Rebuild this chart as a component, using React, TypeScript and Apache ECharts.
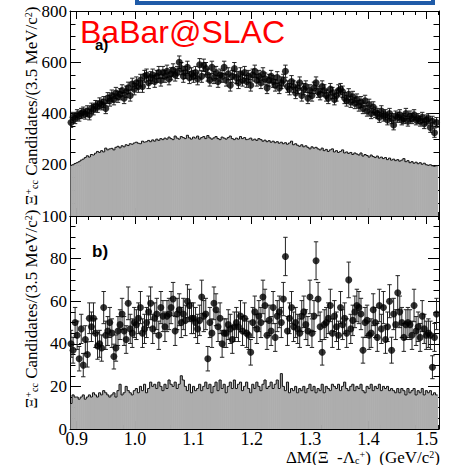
import React, { useEffect, useRef } from 'react';
import * as echarts from 'echarts';

const X_MIN = 0.8885;
const X_MAX = 1.521;
const BIN_START = 0.8885;
const BIN_WIDTH = 0.0035;

const xMajorTicks = [0.9, 1.0, 1.1, 1.2, 1.3, 1.4, 1.5];
const xMinorTicks = [0.92, 0.94, 0.96, 0.98, 1.02, 1.04, 1.06, 1.08, 1.12, 1.14, 1.16, 1.18,
  1.22, 1.24, 1.26, 1.28, 1.32, 1.34, 1.36, 1.38, 1.42, 1.44, 1.46, 1.48, 1.52];

// panel a) data points (candidates per 3.5 MeV bin)
const topData = [
  365, 385, 380, 395, 390, 400, 405, 398, 410, 395,
  420, 415, 430, 425, 440, 435, 445, 420, 460, 450,
  470, 455, 480, 465, 475, 490, 460, 485, 500, 470,
  515, 495, 520, 505, 530, 505, 545, 550, 520, 540,
  550, 525, 545, 560, 530, 560, 545, 565, 535, 555,
  570, 550, 560, 600, 575, 545, 560, 580, 540, 555,
  545, 560, 535, 590, 545, 588, 575, 550, 530, 580,
  540, 560, 525, 550, 545, 580, 530, 555, 510, 545,
  575, 540, 520, 555, 530, 560, 525, 545, 510, 550,
  565, 530, 545, 520, 555, 535, 500, 530, 545, 525,
  510, 540, 500, 520, 530, 565, 505, 495, 525, 505,
  480, 500, 520, 470, 495, 505, 460, 490, 470, 500,
  520, 485, 475, 505, 490, 470, 460, 495, 480, 455,
  470, 490, 495, 485, 460, 450, 475, 445, 465, 440,
  455, 430, 445, 420, 450, 410, 435, 400, 425, 405,
  400, 385, 410, 390, 395, 375, 400, 380, 355, 390,
  385, 395, 375, 380, 400, 370, 390, 380, 395, 375,
  380, 370, 385, 360, 375, 380, 345, 370, 325, 365,
];

// panel a) grey histogram
const topBkg = [
  198, 200, 205, 208, 212, 218, 222, 228, 235, 230,
  240, 238, 245, 252, 248, 255, 250, 265, 258, 262,
  264, 258, 268, 272, 266, 274, 270, 278, 275, 282,
  280, 285, 288, 284, 282, 292, 288, 290, 295, 290,
  297, 292, 300, 295, 302, 298, 304, 300, 308, 302,
  298, 312, 304, 300, 310, 306, 302, 315, 305, 300,
  308, 304, 312, 300, 306, 310, 302, 314, 305, 300,
  305, 310, 302, 298, 308, 304, 300, 306, 312, 302,
  298, 304, 300, 310, 302, 306, 298, 300, 304, 296,
  300, 295, 302, 298, 292, 296, 290, 294, 288, 292,
  286, 290, 284, 288, 282, 286, 280, 285, 292, 278,
  282, 276, 272, 278, 270, 274, 268, 262, 270, 265,
  268, 262, 258, 265, 255, 260, 252, 258, 262, 250,
  255, 248, 252, 258, 246, 250, 244, 248, 240, 246,
  242, 238, 246, 234, 240, 236, 230, 238, 232, 228,
  234, 226, 230, 224, 228, 220, 226, 218, 222, 216,
  220, 214, 218, 224, 212, 216, 208, 212, 206, 210,
  204, 208, 202, 206, 200, 198, 200, 196, 194, 196,
];

// panel b) data points
const botData = [
  40, 37, 50, 44, 33, 47, 30, 42, 35, 52,
  48, 52, 45, 39, 40, 38, 57, 44, 46, 50,
  45, 34, 38, 46, 49, 54, 46, 42, 59, 47,
  45, 50, 49, 52, 57, 45, 47, 50, 55, 59,
  47, 52, 54, 44, 57, 53, 48, 53, 54, 57,
  61, 46, 54, 56, 50, 54, 51, 60, 58, 52,
  52, 50, 47, 51, 62, 53, 54, 33, 50, 45,
  59, 56, 48, 52, 40, 45, 45, 49, 47, 42,
  48, 50, 48, 53, 46, 52, 45, 44, 36, 50,
  55, 47, 53, 50, 62, 58, 44, 51, 46, 57,
  43, 53, 55, 50, 61, 81, 46, 52, 57, 48,
  50, 47, 45, 53, 55, 49, 46, 62, 45, 53,
  79, 61, 48, 36, 49, 50, 52, 58, 45, 53,
  48, 44, 57, 49, 52, 45, 70, 47, 51, 55,
  58, 57, 54, 37, 50, 51, 44, 45, 56, 50,
  43, 58, 47, 57, 42, 48, 60, 37, 54, 49,
  64, 55, 50, 43, 49, 50, 49, 44, 58, 46,
  48, 43, 53, 47, 44, 45, 44, 29, 43, 54,
];

// panel b) grey histogram
const botBkg = [
  12, 16, 15, 15, 14, 15, 16, 14, 15, 16,
  15, 17, 16, 15, 17, 16, 18, 17, 16, 15,
  16, 17, 15, 18, 21, 16, 17, 20, 18, 17,
  16, 18, 19, 17, 20, 18, 21, 17, 19, 22,
  20, 21, 19, 22, 20, 18, 21, 19, 23, 21,
  20, 22, 19, 21, 25, 23, 20, 18, 21, 17,
  20, 18, 19, 21, 18, 20, 22, 19, 21, 17,
  20, 22, 18, 23, 19, 21, 17, 20, 22, 19,
  23, 19, 21, 22, 18, 20, 22, 19, 17, 21,
  19, 22, 20, 18, 21, 23, 19, 20, 22, 19,
  21, 23, 19, 26, 20, 18, 22, 17, 19, 18,
  20, 17, 19, 18, 20, 17, 19, 21, 18, 20,
  17, 19, 18, 21, 17, 20, 19, 18, 21, 20,
  19, 21, 18, 20, 22, 19, 18, 20, 21, 18,
  20, 19, 21, 18, 17, 20, 19, 21, 18, 20,
  19, 21, 18, 20, 19, 20, 18, 19, 18, 17,
  19, 17, 19, 18, 16, 19, 17, 18, 19, 16,
  18, 17, 19, 16, 18, 17, 18, 16, 17, 16,
];

const SERIF = "'Liberation Serif', 'Times New Roman', 'DejaVu Serif', serif";
const SANS = "'Liberation Sans', Arial, sans-serif";
const BLACK = '#000';

const binCenter = (i: number) => BIN_START + BIN_WIDTH * (i + 0.5);

function histSeries(arr: number[], axisIdx: number) {
  return {
    type: 'custom',
    xAxisIndex: axisIdx,
    yAxisIndex: axisIdx,
    clip: true,
    silent: true,
    z: 1,
    data: arr.map((v, i) => [binCenter(i), v]),
    encode: { x: 0, y: 1 },
    renderItem: (params: any, api: any) => {
      const i = params.dataIndex;
      const v = arr[i];
      const prev = i > 0 ? arr[i - 1] : 0;
      const x0 = BIN_START + BIN_WIDTH * i;
      const x1 = x0 + BIN_WIDTH;
      const pTop = api.coord([x0, v]);
      const pBase = api.coord([x1, 0]);
      const pPrev = api.coord([x0, prev]);
      return {
        type: 'group',
        children: [
          {
            type: 'rect',
            shape: { x: pTop[0], y: pTop[1], width: pBase[0] - pTop[0] + 0.6, height: pBase[1] - pTop[1] },
            style: { fill: '#adadad', stroke: null },
          },
          {
            type: 'polyline',
            shape: { points: [[pTop[0], pPrev[1]], [pTop[0], pTop[1]], [pBase[0], pTop[1]]] },
            style: { stroke: '#111', lineWidth: 1, fill: null },
          },
        ],
      };
    },
  };
}

function errSeries(arr: number[], axisIdx: number) {
  return {
    type: 'custom',
    xAxisIndex: axisIdx,
    yAxisIndex: axisIdx,
    clip: true,
    silent: true,
    z: 3,
    data: arr.map((v, i) => [binCenter(i), v, Math.sqrt(v)]),
    encode: { x: 0, y: 1 },
    renderItem: (params: any, api: any) => {
      const x = api.value(0);
      const y = api.value(1);
      const e = api.value(2);
      const hi = api.coord([x, y + e]);
      const lo = api.coord([x, y - e]);
      const cw = 2.2;
      const st = { stroke: '#222', lineWidth: 1 };
      return {
        type: 'group',
        children: [
          { type: 'line', shape: { x1: hi[0], y1: hi[1], x2: lo[0], y2: lo[1] }, style: st },
          { type: 'line', shape: { x1: hi[0] - cw, y1: hi[1], x2: hi[0] + cw, y2: hi[1] }, style: st },
          { type: 'line', shape: { x1: lo[0] - cw, y1: lo[1], x2: lo[0] + cw, y2: lo[1] }, style: st },
        ],
      };
    },
  };
}

function pointSeries(arr: number[], axisIdx: number) {
  return {
    type: 'scatter',
    xAxisIndex: axisIdx,
    yAxisIndex: axisIdx,
    symbol: 'circle',
    symbolSize: 7,
    itemStyle: { color: BLACK },
    silent: true,
    z: 4,
    data: arr.map((v, i) => [binCenter(i), v]),
  };
}

const lineStyle = { color: BLACK, width: 1 };

function xMajor(gridIndex: number, position: string, labels: boolean) {
  return {
    type: 'value', gridIndex, position, min: X_MIN, max: X_MAX,
    axisLine: { show: true, onZero: false, lineStyle },
    axisTick: { show: true, inside: true, length: 8, customValues: xMajorTicks, lineStyle },
    splitLine: { show: false },
    axisLabel: {
      show: labels, customValues: xMajorTicks,
      formatter: (v: number) => v.toFixed(1),
      fontFamily: SERIF, fontSize: 18, lineHeight: 18, color: BLACK, margin: 1,
    },
  };
}

function xMinor(gridIndex: number, position: string) {
  return {
    type: 'value', gridIndex, position, min: X_MIN, max: X_MAX,
    axisLine: { show: false, onZero: false },
    axisTick: { show: true, inside: true, length: 4, customValues: xMinorTicks, lineStyle },
    splitLine: { show: false },
    axisLabel: { show: false },
  };
}

function yAxisCfg(gridIndex: number, position: string, max: number, interval: number, labels: boolean, showMin: boolean) {
  return {
    type: 'value', gridIndex, position, min: 0, max, interval,
    axisLine: { show: true, onZero: false, lineStyle },
    axisTick: { show: true, inside: true, length: 11, lineStyle },
    minorTick: { show: true, splitNumber: 4, length: 5.5, lineStyle },
    splitLine: { show: false },
    axisLabel: {
      show: labels, showMinLabel: showMin,
      fontFamily: SERIF, fontSize: 17, color: BLACK, margin: 3,
    },
  };
}

const titleRich = {
  n: { fontFamily: SERIF, fontSize: 17, lineHeight: 16, fill: BLACK },
  sup: { fontFamily: SERIF, fontSize: 10, lineHeight: 16, fill: BLACK, verticalAlign: 'top' },
  sub: { fontFamily: SERIF, fontSize: 10, lineHeight: 16, fill: BLACK, verticalAlign: 'bottom' },
};
const yTitleText = '{n|Ξ}{sup|+}{sub|cc}{n| Candidates/(3.5 MeV/c}{sup|2}{n|)}';
const xTitleText = '{n|ΔM(Ξ  -Λ}{sub|c}{sup|+}{n|)  (GeV/c}{sup|2}{n|)}';

export default function App() {
  const ref = useRef<HTMLDivElement>(null);
  useEffect(() => {
    if (!ref.current) return;
    const chart = echarts.init(ref.current, null, { renderer: 'svg' });
    chart.setOption({
      animation: false,
      backgroundColor: '#fff',
      textStyle: { fontFamily: SERIF },
      grid: [
        { left: 70, right: 11, top: 11, height: 205 },
        { left: 70, right: 11, top: 216, height: 213 },
      ],
      xAxis: [
        xMajor(0, 'bottom', false),
        xMajor(0, 'top', false),
        xMajor(1, 'bottom', true),
        xMajor(1, 'top', false),
        xMinor(0, 'bottom'),
        xMinor(0, 'top'),
        xMinor(1, 'bottom'),
        xMinor(1, 'top'),
      ],
      yAxis: [
        yAxisCfg(0, 'left', 800, 200, true, false),
        yAxisCfg(0, 'right', 800, 200, false, false),
        yAxisCfg(1, 'left', 100, 20, true, true),
        yAxisCfg(1, 'right', 100, 20, false, false),
      ],
      series: [
        histSeries(topBkg, 0),
        errSeries(topData, 0),
        pointSeries(topData, 0),
        histSeries(botBkg, 2),
        errSeries(botData, 2),
        pointSeries(botData, 2),
      ],
      graphic: [
        {
          type: 'rect', z: 100,
          shape: { x: 137, y: -20, width: 296, height: 23 },
          style: { fill: '#fff', stroke: '#1f5ba8', lineWidth: 4 },
        },
        {
          type: 'text', z: 100, x: 80, y: 32,
          style: { text: 'BaBar@SLAC', fill: '#ff0000', fontFamily: SANS, fontSize: 32, align: 'left', verticalAlign: 'middle' },
        },
        {
          type: 'text', z: 101, x: 95, y: 44,
          style: { text: 'a)', fill: BLACK, fontFamily: SANS, fontWeight: 'bold', fontSize: 15, align: 'left', verticalAlign: 'middle' },
        },
        {
          type: 'text', z: 101, x: 92, y: 251,
          style: { text: 'b)', fill: BLACK, fontFamily: SANS, fontWeight: 'bold', fontSize: 17, align: 'left', verticalAlign: 'middle' },
        },
        {
          type: 'text', z: 100, x: 31, y: 106, rotation: Math.PI / 2,
          style: { text: yTitleText, rich: titleRich, align: 'center', verticalAlign: 'middle' },
        },
        {
          type: 'text', z: 100, x: 31, y: 309, rotation: Math.PI / 2,
          style: { text: yTitleText, rich: titleRich, align: 'center', verticalAlign: 'middle' },
        },
        {
          type: 'text', z: 100, x: 440, y: 457,
          style: { text: xTitleText, rich: titleRich, align: 'right', verticalAlign: 'middle' },
        },
      ],
    });
    return () => chart.dispose();
  }, []);
  return (
    <div
      ref={ref}
      style={{ position: 'absolute', left: 0, top: 0, width: 450, height: 465, background: '#fff' }}
    />
  );
}
